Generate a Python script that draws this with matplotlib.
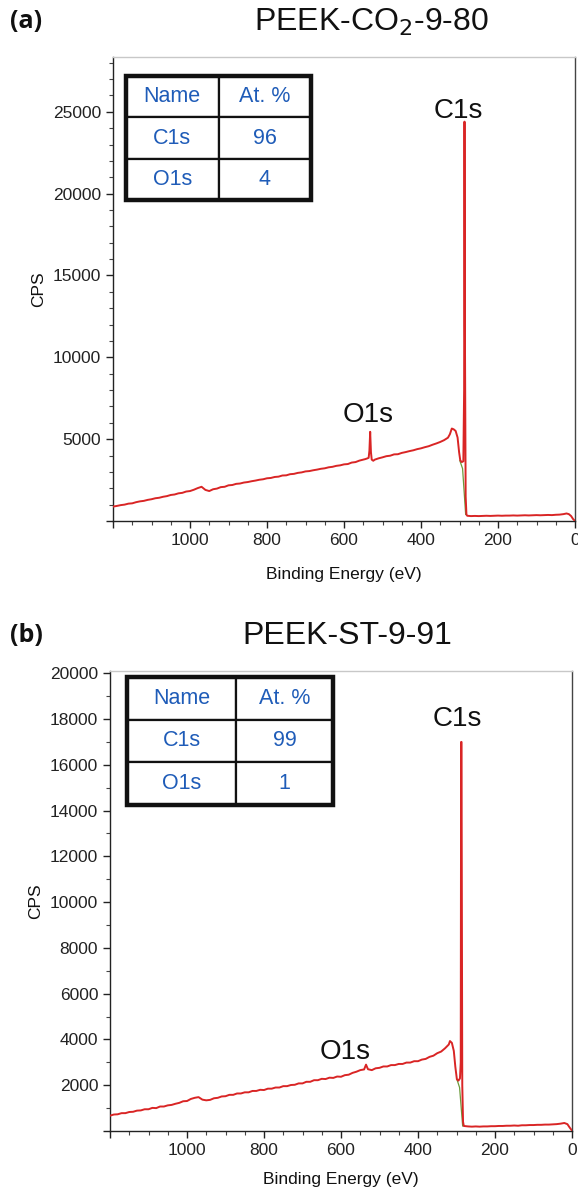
import matplotlib
matplotlib.use("Agg")
import matplotlib.pyplot as plt
from matplotlib.patches import Rectangle
from matplotlib.ticker import MultipleLocator, FuncFormatter

plt.rcParams['font.family'] = ['Liberation Sans', 'DejaVu Sans']

# ---------------- data ----------------
TITLE_A = "PEEK-CO$_2$-9-80"
TITLE_B = "PEEK-ST-9-91"

TABLE_HEADER = ["Name", "At. %"]
ELEMENTS = ["C1s", "O1s"]
AT_PCT_A = ["96", "4"]
AT_PCT_B = ["99", "1"]

ENERGY_A = [1200, 1190, 1180, 1170, 1160, 1150, 1140, 1130, 1120, 1110, 1100, 1090, 1080, 1070,
            1060, 1050, 1040, 1030, 1020, 1010, 1000, 990, 980, 970, 960, 950, 940, 930, 920, 910,
            900, 890, 880, 870, 860, 850, 840, 830, 820, 810, 800, 790, 780, 770, 760, 750, 740,
            730, 720, 710, 700, 690, 680, 670, 660, 650, 640, 630, 620, 610, 600, 590, 580, 570,
            560, 550, 545, 540, 536, 534, 532, 530, 528, 524, 520, 510, 500, 490, 480, 470, 460,
            450, 440, 430, 420, 410, 400, 390, 380, 370, 360, 350, 340, 330, 325, 320, 315, 310,
            305, 301, 298, 294, 290, 288, 287, 286, 284, 282, 280, 270, 260, 250, 240, 230, 220,
            210, 200, 190, 180, 170, 160, 150, 140, 130, 120, 110, 100, 90, 80, 70, 60, 50, 40,
            30, 22, 16, 10, 5, 1]
CPS_A = [880, 920, 970, 1000, 1060, 1080, 1150, 1200, 1230, 1290, 1330, 1390, 1420, 1480,
         1520, 1590, 1620, 1690, 1720, 1800, 1830, 1910, 2010, 2090, 1900, 1830, 1940, 1980, 2070, 2090,
         2180, 2200, 2270, 2290, 2350, 2380, 2430, 2470, 2520, 2550, 2610, 2630, 2690, 2710, 2780, 2790, 2860,
         2880, 2940, 2970, 3030, 3050, 3100, 3140, 3190, 3220, 3280, 3310, 3370, 3400, 3460, 3480, 3570, 3600,
         3690, 3750, 3780, 3820, 3860, 4300, 5450, 4200, 3750, 3680, 3750, 3830, 3890, 3960, 3990, 4070, 4080,
         4160, 4210, 4270, 4320, 4390, 4440, 4510, 4570, 4660, 4740, 4830, 4940, 5090, 5300, 5650, 5600, 5500,
         5100, 4200, 3700, 3600, 3650, 8000, 24400, 12000, 1500, 400, 320, 300, 310, 300, 310, 320, 310,
         320, 330, 320, 330, 330, 340, 330, 340, 350, 340, 350, 360, 350, 360, 370, 360, 380, 390,
         420, 460, 420, 300, 120, 30]

ENERGY_B = [1200, 1190, 1180, 1170, 1160, 1150, 1140, 1130, 1120, 1110, 1100, 1090, 1080, 1070,
            1060, 1050, 1040, 1030, 1020, 1010, 1000, 990, 980, 970, 960, 950, 940, 930, 920, 910,
            900, 890, 880, 870, 860, 850, 840, 830, 820, 810, 800, 790, 780, 770, 760, 750, 740,
            730, 720, 710, 700, 690, 680, 670, 660, 650, 640, 630, 620, 610, 600, 590, 580, 570,
            560, 550, 540, 535, 530, 520, 510, 500, 490, 480, 470, 460, 450, 440, 430, 420, 410,
            400, 390, 380, 370, 360, 350, 340, 330, 320, 317, 312, 307, 303, 299, 295, 291, 289,
            288, 287, 285, 283, 281, 270, 260, 250, 240, 230, 220, 210, 200, 190, 180, 170, 160,
            150, 140, 130, 120, 110, 100, 90, 80, 70, 60, 50, 40, 30, 20, 12, 6, 1]
CPS_B = [670, 720, 730, 780, 780, 830, 840, 890, 900, 950, 950, 1010, 1000, 1070,
         1070, 1120, 1140, 1190, 1230, 1300, 1310, 1400, 1450, 1480, 1370, 1340, 1360, 1430, 1450, 1510,
         1520, 1580, 1580, 1640, 1640, 1690, 1690, 1750, 1750, 1800, 1790, 1850, 1850, 1900, 1900, 1960, 1960,
         2010, 2020, 2080, 2080, 2150, 2150, 2220, 2220, 2280, 2270, 2330, 2320, 2380, 2370, 2440, 2460, 2540,
         2590, 2660, 2690, 2900, 2700, 2660, 2740, 2760, 2820, 2820, 2880, 2880, 2930, 2930, 2990, 2990, 3050,
         3050, 3120, 3150, 3240, 3290, 3400, 3470, 3610, 3780, 3930, 3850, 3500, 2800, 2260, 2200, 2300, 3000,
         17000, 17000, 2000, 400, 220, 200, 190, 200, 190, 200, 200, 210, 210, 220, 220, 230, 230,
         240, 230, 250, 250, 260, 260, 270, 270, 280, 280, 290, 300, 320, 350, 300, 150, 40]

# thin green background trace under the C1s peak
FIT_E_A = [299, 292, 284]
FIT_C_A = [3680, 3200, 400]
FIT_E_B = [299, 292, 284]
FIT_C_B = [2260, 1900, 220]

# ---------------- figure ----------------
W, H = 578, 1188
fig = plt.figure(figsize=(W / 100, H / 100), dpi=100)


def px_axes(x0, y0, x1, y1):
    return fig.add_axes([x0 / W, 1 - y1 / H, (x1 - x0) / W, (y1 - y0) / H])


ax1 = px_axes(113, 57, 575, 521)
ax2 = px_axes(110, 671, 572, 1131)

RED = '#d92525'
BLUE = '#1f5cb8'


def style_axes(ax, ylim, ymajor, xlabelpad):
    ax.set_xlim(1200, 0)
    ax.set_ylim(*ylim)
    ax.xaxis.set_major_locator(MultipleLocator(200))
    ax.xaxis.set_minor_locator(MultipleLocator(50))
    ax.yaxis.set_major_locator(MultipleLocator(ymajor))
    ax.yaxis.set_minor_locator(MultipleLocator(1000))
    ax.tick_params(axis='both', which='major', direction='out', length=5, width=1,
                   labelsize=12.5, colors='#222222', top=False, right=False)
    ax.tick_params(axis='both', which='minor', direction='out', length=3, width=0.8,
                   top=False, right=False, color='#444444')
    ax.spines['left'].set_color('#222222')
    ax.spines['bottom'].set_color('#222222')
    ax.spines['top'].set_color('#c8c8c8')
    ax.spines['right'].set_color('#444444')
    for s in ax.spines.values():
        s.set_linewidth(1.0)
    ax.set_xlabel("Binding Energy (eV)", fontsize=12.5, labelpad=xlabelpad, color='#111111')
    ax.set_ylabel("CPS", fontsize=12.5, labelpad=5, color='#111111')
    ax.yaxis.set_major_formatter(FuncFormatter(lambda v, p: "" if v <= 0 else f"{int(v)}"))
    ax.xaxis.set_major_formatter(FuncFormatter(lambda v, p: "" if v >= 1150 else f"{int(v)}"))


def draw_table(ax, values, bbox, colw):
    cell_text = [[e, v] for e, v in zip(ELEMENTS, values)]
    tb = ax.table(cellText=cell_text, colLabels=TABLE_HEADER, cellLoc='center',
                  bbox=bbox, colWidths=colw, zorder=5)
    tb.auto_set_font_size(False)
    for (r, c), cell in tb.get_celld().items():
        cell.set_linewidth(1.6)
        cell.set_edgecolor('#111111')
        cell.set_facecolor('white')
        cell.get_text().set_color(BLUE)
        cell.get_text().set_fontsize(15.5)
    ax.add_patch(Rectangle((bbox[0], bbox[1]), bbox[2], bbox[3], transform=ax.transAxes,
                           fill=False, lw=3.2, edgecolor='#111111', zorder=6, clip_on=False))


# ---- panel (a)
ax1.plot(ENERGY_A, CPS_A, color=RED, lw=1.4, zorder=3)
ax1.plot(FIT_E_A, FIT_C_A, color='#6a9a3a', lw=0.9, zorder=2)
style_axes(ax1, (0, 28350), 5000, 14)
draw_table(ax1, AT_PCT_A, [13 / 462, (521 - 200) / 464, 185 / 462, 124 / 464], [0.5, 0.5])
ax1.text(304, 25060, "C1s", fontsize=20, ha='center', va='center', color='#111111')
ax1.text(538, 6460, "O1s", fontsize=20, ha='center', va='center', color='#111111')

# ---- panel (b)
ax2.plot(ENERGY_B, CPS_B, color=RED, lw=1.4, zorder=3)
ax2.plot(FIT_E_B, FIT_C_B, color='#6a9a3a', lw=0.9, zorder=2)
style_axes(ax2, (0, 20100), 2000, 10)
draw_table(ax2, AT_PCT_B, [17 / 462, (1131 - 805) / 460, 206 / 462, 128 / 460], [0.53, 0.47])
ax2.text(299, 17990, "C1s", fontsize=20, ha='center', va='center', color='#111111')
ax2.text(590, 3460, "O1s", fontsize=20, ha='center', va='center', color='#111111')

# ---- titles / panel letters
fig.text(371 / W, 1 - 22 / H, TITLE_A, fontsize=23, ha='center', va='center', color='#111111')
fig.text(347 / W, 1 - 636 / H, TITLE_B, fontsize=23, ha='center', va='center', color='#111111')
fig.text(10 / W, 1 - 22 / H, "(a)", fontsize=18, fontweight='bold', ha='left', va='center',
         family=['Open Sans', 'DejaVu Sans'], color='#111111')
fig.text(10 / W, 1 - 636 / H, "(b)", fontsize=18, fontweight='bold', ha='left', va='center',
         family=['Open Sans', 'DejaVu Sans'], color='#111111')

fig.savefig("out.png", dpi=100)
